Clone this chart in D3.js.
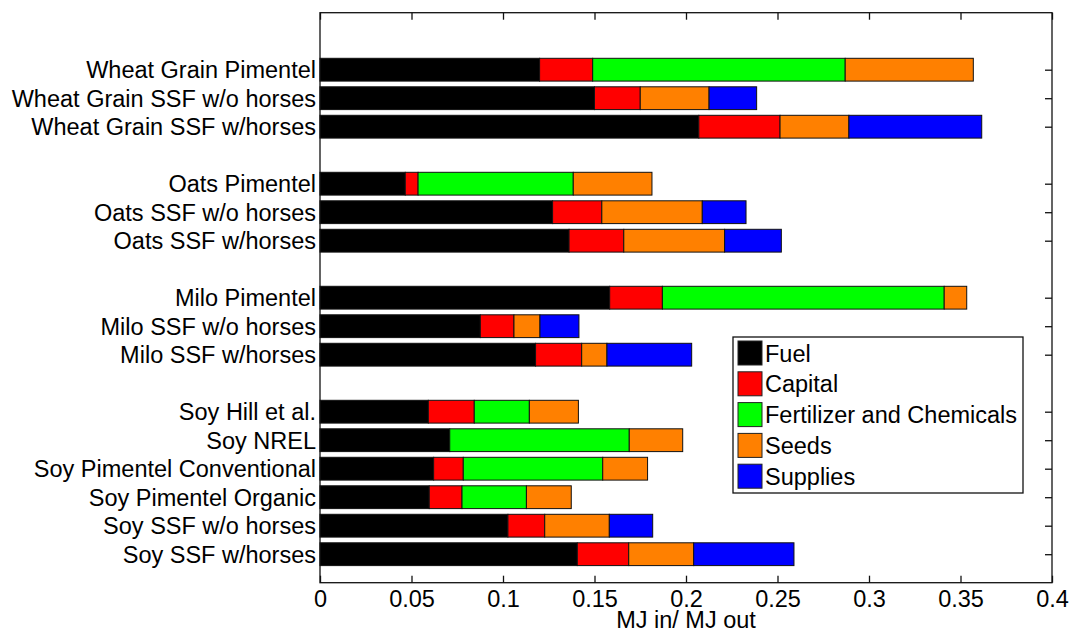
<!DOCTYPE html>
<html>
<head>
<meta charset="utf-8">
<script src="https://cdn.jsdelivr.net/npm/d3@7"></script>
<style>
  html, body { margin: 0; padding: 0; background: #fff; }
  svg { display: block; font-family: "Liberation Sans", Arial, Helvetica, sans-serif; }
</style>
</head>
<body>
<svg id="chart" width="1069" height="631"></svg>
<script>
// Energy inputs per unit of energy output, by crop and source
const groups = [
  ["Wheat Grain Pimentel", "Wheat Grain SSF w/o horses", "Wheat Grain SSF w/horses"],
  ["Oats Pimentel", "Oats SSF w/o horses", "Oats SSF w/horses"],
  ["Milo Pimentel", "Milo SSF w/o horses", "Milo SSF w/horses"],
  ["Soy Hill et al.", "Soy NREL", "Soy Pimentel Conventional", "Soy Pimentel Organic", "Soy SSF w/o horses", "Soy SSF w/horses"]
];

const seriesNames = ["Fuel", "Capital", "Fertilizer and Chemicals", "Seeds", "Supplies"];
const seriesColors = ["#000000", "#ff0000", "#00ff00", "#ff8000", "#0000ff"];

// One value per category, in the order of the groups above
const fuel       = [0.120, 0.150, 0.207, 0.0466, 0.1271, 0.1361, 0.1583, 0.0876, 0.1178, 0.0592, 0.0709, 0.0621, 0.0597, 0.1027, 0.1406];
const capital    = [0.029, 0.025, 0.0444, 0.007, 0.0269, 0.0299, 0.0288, 0.0184, 0.0252, 0.0251, 0.0, 0.0162, 0.0179, 0.0201, 0.0281];
const fertilizer = [0.138, 0.0, 0.0, 0.0848, 0.0, 0.0, 0.154, 0.0, 0.0, 0.0301, 0.0981, 0.0762, 0.0352, 0.0, 0.0];
const seeds      = [0.070, 0.0376, 0.0376, 0.043, 0.0549, 0.0551, 0.0123, 0.0142, 0.0138, 0.0268, 0.0292, 0.0245, 0.0245, 0.0353, 0.0355];
const supplies   = [0.0, 0.026, 0.0726, 0.0, 0.0239, 0.031, 0.0, 0.0213, 0.0463, 0.0, 0.0, 0.0, 0.0, 0.0237, 0.0548];

const xTicks = [0, 0.05, 0.1, 0.15, 0.2, 0.25, 0.3, 0.35, 0.4];
const xTickLabels = ["0", "0.05", "0.1", "0.15", "0.2", "0.25", "0.3", "0.35", "0.4"];
const xLabel = "MJ in/ MJ out";

// Row slots: each group is preceded by one empty slot
const rows = [];
let slot = 0, k = 0;
groups.forEach(g => {
  slot += 1;
  g.forEach(name => { slot += 1; rows.push({ name, slot, idx: k++ }); });
});
const nSlots = slot + 1;

const series = [fuel, capital, fertilizer, seeds, supplies];

const svg = d3.select("#chart");
const margin = { left: 320, right: 17, top: 12.7, bottom: 48.3 };
const W = 1069, H = 631;
const x = d3.scaleLinear().domain([0, 0.4]).range([margin.left, W - margin.right]);
const y = d3.scaleLinear().domain([0, nSlots]).range([margin.top, H - margin.bottom]);
const barH = (y(1) - y(0)) * 0.8;
const fontSize = 23.5;

// Stacked bars
const stackData = rows.map(r => {
  let acc = 0;
  return series.map((s, si) => {
    const v = s[r.idx];
    const seg = { slot: r.slot, x0: acc, x1: acc + v, color: seriesColors[si] };
    acc += v;
    return seg;
  });
}).flat();

svg.append("g").selectAll("rect")
  .data(stackData)
  .join("rect")
  .attr("x", d => x(d.x0))
  .attr("y", d => y(d.slot) - barH / 2)
  .attr("width", d => Math.max(0, x(d.x1) - x(d.x0)))
  .attr("height", barH)
  .attr("fill", d => d.color)
  .attr("stroke", "#111")
  .attr("stroke-width", 1);

// Axes box with inward ticks
const axisColor = "#111";
const tickLen = 7;
const frame = svg.append("g");
frame.append("rect")
  .attr("x", x(0)).attr("y", y(0))
  .attr("width", x(0.4) - x(0)).attr("height", y(nSlots) - y(0))
  .attr("fill", "none").attr("stroke", axisColor).attr("stroke-width", 1.3);

const bottomAxis = d3.axisBottom(x).tickValues(xTicks).tickSize(-tickLen).tickFormat((d, i) => xTickLabels[i]);
const topAxis = d3.axisTop(x).tickValues(xTicks).tickSize(-tickLen).tickFormat("");
const yTickVals = rows.map(r => r.slot);
const rightAxis = d3.axisRight(y).tickValues(yTickVals).tickSize(-tickLen).tickFormat("");
const leftAxis = d3.axisLeft(y).tickValues(yTickVals).tickSize(0).tickPadding(4)
  .tickFormat(v => rows.find(r => r.slot === v).name);

function style(g) {
  g.select(".domain").remove();
  g.selectAll(".tick line").attr("stroke", axisColor).attr("stroke-width", 1.3);
  g.selectAll(".tick text").attr("fill", "#000").attr("font-size", fontSize)
    .attr("font-family", "'Liberation Sans', Arial, sans-serif");
}

svg.append("g").attr("transform", `translate(0,${y(nSlots)})`).call(bottomAxis).call(style)
  .selectAll(".tick text").attr("dy", null).attr("y", 0)
  .attr("transform", "translate(0,24.5)");
svg.append("g").attr("transform", `translate(0,${y(0)})`).call(topAxis).call(style);
svg.append("g").attr("transform", `translate(${x(0.4)},0)`).call(rightAxis).call(style);
svg.append("g").attr("transform", `translate(${x(0)},0)`).call(leftAxis).call(style)
  .selectAll(".tick text").attr("dy", "0.35em");

// Axis title
svg.append("text")
  .attr("x", (x(0) + x(0.4)) / 2)
  .attr("y", 628)
  .attr("text-anchor", "middle")
  .attr("font-size", fontSize)
  .attr("fill", "#000")
  .text(xLabel);

// Legend
const lg = svg.append("g").attr("transform", "translate(733,337)");
lg.append("rect").attr("width", 290).attr("height", 156)
  .attr("fill", "#fff").attr("stroke", axisColor).attr("stroke-width", 1.3);
const items = lg.selectAll("g.item").data(seriesNames).join("g")
  .attr("class", "item")
  .attr("transform", (d, i) => `translate(5,${4 + i * 30.8})`);
items.append("rect").attr("width", 24).attr("height", 24)
  .attr("fill", (d, i) => seriesColors[i]).attr("stroke", "#222").attr("stroke-width", 1);
items.append("text").attr("x", 27).attr("y", 20.5)
  .attr("font-size", fontSize).attr("fill", "#000")
  .text(d => d);
</script>
</body>
</html>
